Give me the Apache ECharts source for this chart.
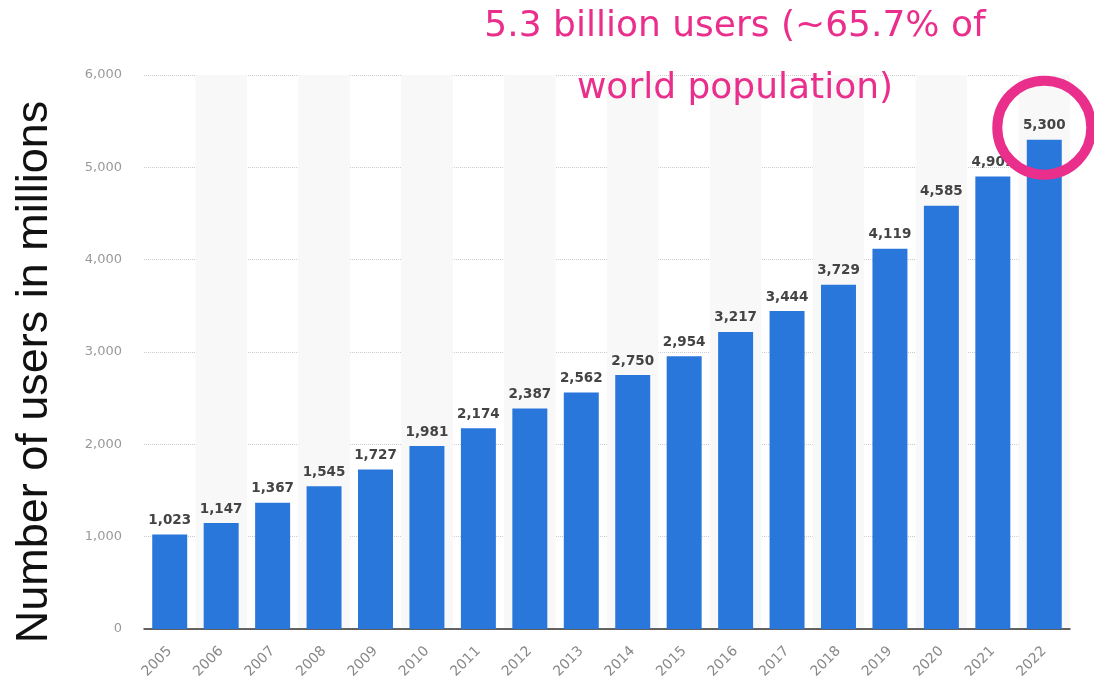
<!DOCTYPE html>
<html>
<head>
<meta charset="utf-8">
<script src="https://cdn.jsdelivr.net/npm/echarts@6/dist/echarts.min.js"></script>
<style>
  html, body { margin: 0; padding: 0; background: #fff; }
  #chart { width: 1094px; height: 691px; }
</style>
</head>
<body>
<div id="chart"></div>
<script>
const years = ['2005','2006','2007','2008','2009','2010','2011','2012','2013','2014','2015','2016','2017','2018','2019','2020','2021','2022'];
const users = [1023,1147,1367,1545,1727,1981,2174,2387,2562,2750,2954,3217,3444,3729,4119,4585,4901,5300];
const yTicks = { min: 0, max: 6000, interval: 1000 };
const note = ['5.3 billion users (~65.7% of', 'world population)'];
const axisName = 'Number of users in millions';

const pink = '#ea2e8c';
const chart = echarts.init(document.getElementById('chart'));

const option = {
  animation: false,
  grid: { left: 144, right: 24, top: 75, bottom: 62 },
  xAxis: {
    type: 'category',
    data: years,
    axisLine: { lineStyle: { color: '#333', width: 1.5 } },
    axisTick: { show: false },
    axisLabel: { rotate: 45, color: '#888', fontSize: 14, fontFamily: 'DejaVu Sans', margin: 20 },
    splitArea: { show: true, areaStyle: { color: ['rgba(255,255,255,0)', '#f8f8f8'] } }
  },
  yAxis: {
    type: 'value',
    min: yTicks.min,
    max: yTicks.max,
    interval: yTicks.interval,
    axisLine: { show: false },
    axisTick: { show: false },
    axisLabel: {
      color: '#999', fontSize: 13, fontFamily: 'DejaVu Sans', margin: 22,
      formatter: v => v.toLocaleString('en-US')
    },
    splitLine: { lineStyle: { color: '#ccc', type: [1, 1], width: 1 } }
  },
  series: [{
    type: 'bar',
    data: users,
    barWidth: '68%',
    itemStyle: { color: '#2a77dc' },
    label: {
      show: true,
      position: 'top',
      distance: 7,
      color: '#444',
      fontSize: 13.5,
      fontWeight: 'bold',
      fontFamily: 'DejaVu Sans',
      formatter: p => p.value.toLocaleString('en-US')
    }
  }],
  graphic: [
    {
      type: 'text', x: 735, y: 27, z: 100,
      style: { text: note[0], fill: pink, font: '36px "DejaVu Sans"', align: 'center', verticalAlign: 'middle' }
    },
    {
      type: 'text', x: 735, y: 89, z: 100,
      style: { text: note[1], fill: pink, font: '36px "DejaVu Sans"', align: 'center', verticalAlign: 'middle' }
    },
    {
      type: 'text', x: 35, y: 372, rotation: Math.PI / 2, z: 100,
      style: { text: axisName, fill: '#111', font: '45px "Liberation Sans"', align: 'center', verticalAlign: 'middle' }
    }
  ]
};
chart.setOption(option);

// circle around the last bar's label
const last = years.length - 1;
const pt = chart.convertToPixel({ seriesIndex: 0 }, [last, users[last]]);
chart.setOption({
  graphic: option.graphic.concat([{
    type: 'circle',
    shape: { cx: pt[0], cy: pt[1] - 12, r: 47 },
    style: { fill: 'none', stroke: pink, lineWidth: 10 },
    z: 100
  }])
});
</script>
</body>
</html>
